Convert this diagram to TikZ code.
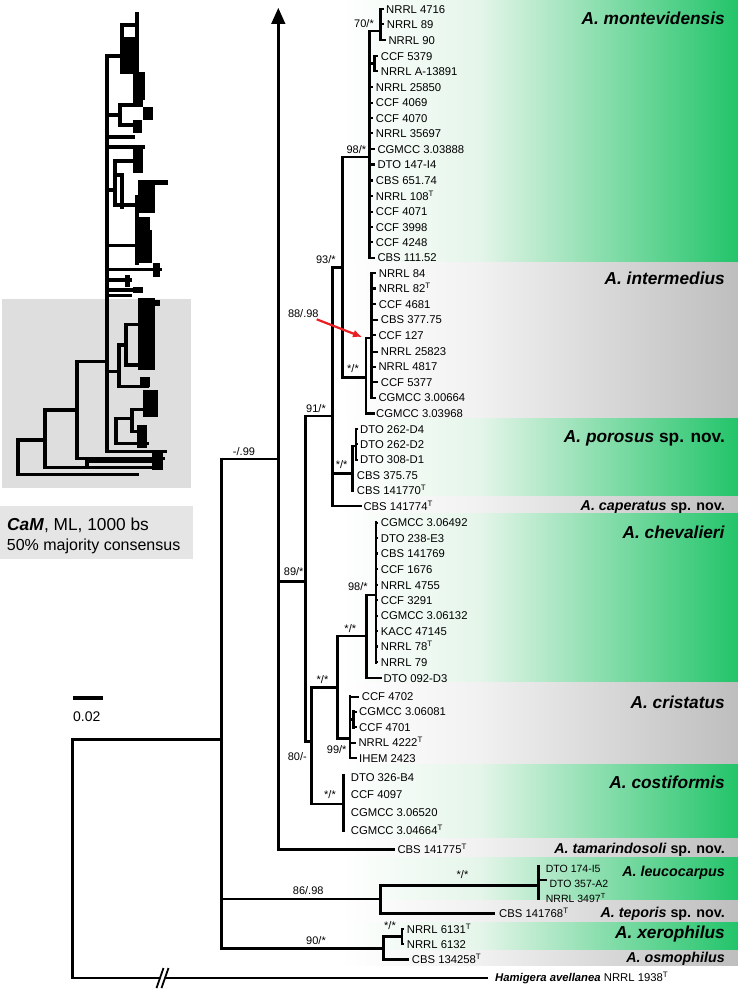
\documentclass[tikz,border=0pt]{standalone}
\usepackage{fontspec}
\setmainfont{Liberation Sans}
\usetikzlibrary{arrows.meta}
\definecolor{gband}{RGB}{35,196,106}
\definecolor{gbandl}{RGB}{228,245,233}
\definecolor{kband}{RGB}{190,190,190}
\definecolor{kbandl}{RGB}{241,241,241}
\definecolor{redarr}{RGB}{235,30,35}
\newcommand{\typeT}{\textsuperscript{T}}
\newcommand{\band}[3]{%
  \fill[left color=white,right color=#3l] (340,#1) rectangle (480.5,#2);
  \fill[left color=#3l,right color=#3] (480,#1) rectangle (738,#2);}
\newcommand{\leaf}[5]{%
  \node[tx] (#1) at (#3,#4) {#5};
  \draw[tk] (#2,#4) -- ({#3-2.5},#4);}
\newcommand{\leafn}[4]{\node[tx] (#1) at (#2,#3) {#4};}
\begin{document}
\begin{tikzpicture}[x=1pt,y=-1pt,
  br/.style={line width=2.7pt,line cap=rect},
  tk/.style={line width=2.2pt},
  th/.style={line width=3.4pt,line cap=rect},
  tx/.style={anchor=base west,yshift=-4.1pt,inner sep=0pt,font=\fontsize{11.3}{12}\selectfont},
  txs/.style={tx,font=\fontsize{10.5}{11}\selectfont,yshift=-3.8pt},
  sup/.style={anchor=base,yshift=-4pt,inner sep=0pt,font=\fontsize{11}{12}\selectfont},
  cbig/.style={anchor=base east,yshift=-6.2pt,inner sep=0pt,font=\fontsize{17.3}{18}\selectfont\bfseries},
  csml/.style={anchor=base east,yshift=-5.1pt,inner sep=0pt,font=\fontsize{14.3}{15}\selectfont\bfseries}]
\useasboundingbox (0,0) rectangle (738,990);
\fill[white] (0,0) rectangle (738,990);
% ---------- bands
\band{0}{262.3}{gband}
\band{262.3}{418.3}{kband}
\band{418.3}{496.7}{gband}
\band{496.7}{513.3}{kband}
\band{513.3}{682.7}{gband}
\band{682.7}{764}{kband}
\band{764}{838.3}{gband}
\band{838.3}{857.7}{kband}
\band{857.7}{900}{gband}
\band{900}{922.7}{kband}
\band{922.7}{950}{gband}
\band{950}{965.7}{kband}
% ---------- clade labels
\node[cbig] (cmon) at (725,18.3) {\textit{A. montevidensis}};
\node[cbig] (cint) at (725,278.3) {\textit{A. intermedius}};
\node[cbig] (cpor) at (725,436.7) {\textit{A. porosus} sp. nov.};
\node[csml] (ccap) at (725,505.5) {\textit{A. caperatus} sp. nov.};
\node[cbig] (cche) at (725,532.7) {\textit{A. chevalieri}};
\node[cbig] (ccri) at (725,702.7) {\textit{A. cristatus}};
\node[cbig] (ccos) at (725,782.7) {\textit{A. costiformis}};
\node[csml] (ctam) at (725,848.3) {\textit{A. tamarindosoli} sp. nov.};
\node[csml] (cleu) at (725,871.7) {\textit{A. leucocarpus}};
\node[csml] (ctep) at (725,912.3) {\textit{A. teporis} sp. nov.};
\node[cbig] (cxer) at (725,932.3) {\textit{A. xerophilus}};
\node[csml] (cosm) at (725,957.3) {\textit{A. osmophilus}};
% ---------- thumbnail
\fill[black!13] (2,299) rectangle (190.7,488.3);
\draw[th] (107,56) -- (107,451.7);
\draw[th] (107,56) -- (122,56);
\draw[th] (122,25) -- (122,72);
\draw[th] (122,25) -- (137,25);
\draw[th] (137,14) -- (137,72);
\fill (122,37) rectangle (137,72);
\draw[th] (122,72) -- (137,72);
\fill (133,72) rectangle (145,100);
\draw[th] (107,115) -- (120,115);
\draw[th] (120,105) -- (120,125);
\draw[th] (120,105) -- (133,105);
\fill (133,95) rectangle (143,107);
\fill (143,107) rectangle (153,120);
\draw[th] (120,125) -- (133,125);
\fill (133,120) rectangle (142,133);
\draw[th] (107,137) -- (133,137);
\draw[th] (107,147) -- (143,147);
\fill (133,147) rectangle (143,173);
\draw[th] (115,161) -- (133,161);
\draw[th] (107,190) -- (115,190);
\draw[th] (115,161) -- (115,205);
\draw[th] (115,175) -- (122,175);
\draw[th] (122,175) -- (122,207);
\fill (145,180) rectangle (168,185);
\fill (138,180) rectangle (155,213);
\draw[th] (115,205) -- (137,205);
\draw[th] (137,197) -- (137,227);
\fill (138,217) rectangle (150,240);
\draw[th] (137,230) -- (137,263);
\fill (138,230) rectangle (152,263);
\draw[th] (107,245.7) -- (137,245.7);
\draw[th] (107,269.3) -- (160,269.3);
\fill (153,263) rectangle (160,277);
\draw[th] (110,280) -- (130,280);
\fill (125,275) rectangle (130,287);
\draw[th] (110,290) -- (140,290);
\fill (133,287) rectangle (143,293);
\draw[th] (107,295.7) -- (130,295.7);
\fill (138,298) rectangle (155,370);
\fill (155,300) rectangle (160,306);
\draw[th] (126,324.3) -- (126,365);
\draw[th] (126,324.3) -- (138,324.3);
\draw[th] (126,365) -- (147,365);
\draw[th] (119,345) -- (119,386.7);
\draw[th] (119,345) -- (126,345);
\draw[th] (107,371.7) -- (119,371.7);
\draw[th] (119,386.7) -- (147,386.7);
\fill (140,377) rectangle (150,387);
\draw[th] (132,409.3) -- (132,431.7);
\draw[th] (132,409.3) -- (147,409.3);
\fill (143,390) rectangle (158,417);
\draw[th] (116,418.3) -- (116,443.3);
\draw[th] (116,418.3) -- (132,418.3);
\draw[th] (132,431.7) -- (143,431.7);
\fill (137,425) rectangle (147,448);
\draw[th] (116,443.3) -- (147,443.3);
\draw[th] (107,451.7) -- (165,451.7);
\draw[th] (77,361.7) -- (107,361.7);
\draw[th] (77,361.7) -- (77,458.3);
\draw[th] (77,458.3) -- (163,458.3);
\fill (152,450) rectangle (163,470);
\draw[th] (45,410) -- (77,410);
\draw[th] (45,410) -- (45,467.7);
\draw[th] (45,467.7) -- (150,467.7);
\draw[th] (87,461) -- (87,467.7);
\draw[th] (87,461) -- (153,461);
\draw[th] (18,440) -- (45,440);
\draw[th] (18,440) -- (18,474.3);
\draw[th] (18,474.3) -- (137,474.3);
% ---------- caption box
\fill[black!10] (0,505.7) rectangle (192.7,559);
\node[anchor=base west,yshift=-6.2pt,inner sep=0pt,font=\fontsize{17.3}{18}\selectfont] (cap1) at (7,524) {\textbf{\textit{CaM}}, ML, 1000 bs};
\node[anchor=base west,yshift=-5.8pt,inner sep=0pt,font=\fontsize{16}{17}\selectfont] (cap2) at (6.7,545) {50\% majority consensus};
% ---------- scale bar
\draw[line width=4pt] (73.3,697.7) coordinate (sb1) -- (103.3,697.7) coordinate (sb2);
\node[anchor=base west,yshift=-5pt,inner sep=0pt,font=\fontsize{14}{15}\selectfont] (sbl) at (73,716.7) {0.02};
% ---------- leaves
\leaf{m1}{380.7}{386}{9.3}{NRRL 4716}
\leaf{m2}{380.7}{386.7}{24.3}{NRRL 89}
\leaf{m3}{380.7}{388.3}{40}{NRRL 90}
\leaf{m4}{374.5}{380.7}{56}{CCF 5379}
\leaf{m5}{374.5}{380.7}{71}{NRRL A-13891}
\leaf{m6}{369.3}{375.7}{87.3}{NRRL 25850}
\leaf{m7}{369.3}{375.7}{102.7}{CCF 4069}
\leaf{m8}{369.3}{375.7}{118.3}{CCF 4070}
\leaf{m9}{369.3}{375.7}{133.3}{NRRL 35697}
\leaf{m10}{369.3}{377.3}{149}{CGMCC 3.03888}
\leaf{m11}{369.3}{377.3}{164.5}{DTO 147-I4}
\leaf{m12}{369.3}{375.7}{180.5}{CBS 651.74}
\leaf{m13}{369.3}{375.7}{196}{NRRL 108\typeT}
\leaf{m14}{369.3}{375.7}{211.7}{CCF 4071}
\leaf{m15}{369.3}{375.7}{227}{CCF 3998}
\leaf{m16}{369.3}{375.7}{242.3}{CCF 4248}
\leaf{m17}{369.3}{377.3}{257.7}{CBS 111.52}
\leaf{i1}{371.7}{378.7}{273.3}{NRRL 84}
\leaf{i2}{371.7}{378.7}{288.5}{NRRL 82\typeT}
\leaf{i3}{371.7}{378.7}{304}{CCF 4681}
\leaf{i4}{371.7}{380.7}{319.7}{CBS 377.75}
\leaf{i5}{371.7}{378.3}{335}{CCF 127}
\leaf{i6}{371.7}{380.7}{351.7}{NRRL 25823}
\leaf{i7}{371.7}{378.3}{366.7}{NRRL 4817}
\leaf{i8}{371.7}{380.7}{382.3}{CCF 5377}
\leaf{i9}{371.7}{378.3}{397.7}{CGMCC 3.00664}
\leafn{i10}{376}{413.3}{CGMCC 3.03968}
\leaf{p1}{356}{360}{429}{DTO 262-D4}
\leaf{p2}{356}{360}{444.3}{DTO 262-D2}
\leaf{p3}{356}{360}{459.7}{DTO 308-D1}
\leaf{p4}{352.3}{356.7}{475}{CBS 375.75}
\leaf{p5}{352.3}{356.7}{490.7}{CBS 141770\typeT}
\leafn{c1}{363.3}{506}{CBS 141774\typeT}
\leaf{h1}{376}{380.7}{522.7}{CGMCC 3.06492}
\leaf{h2}{376}{380.7}{538.3}{DTO 238-E3}
\leaf{h3}{376}{380.7}{553.5}{CBS 141769}
\leaf{h4}{376}{380.7}{569.3}{CCF 1676}
\leaf{h5}{376}{380.7}{585}{NRRL 4755}
\leaf{h6}{376}{380.7}{600.3}{CCF 3291}
\leaf{h7}{376}{380.7}{615.7}{CGMCC 3.06132}
\leaf{h8}{376}{380.7}{631}{KACC 47145}
\leaf{h9}{376}{380.7}{646.5}{NRRL 78\typeT}
\leaf{h10}{376}{380.7}{662.3}{NRRL 79}
\leafn{h11}{383.3}{678}{DTO 092-D3}
\leaf{r1}{350}{361.7}{696.7}{CCF 4702}
\leaf{r2}{353.5}{359}{711.7}{CGMCC 3.06081}
\leaf{r3}{353.5}{359}{727.3}{CCF 4701}
\leaf{r4}{350}{358.3}{742.7}{NRRL 4222\typeT}
\leaf{r5}{350}{359}{758}{IHEM 2423}
\leafn{o1}{350.7}{777.5}{DTO 326-B4}
\leafn{o2}{350.7}{794.3}{CCF 4097}
\leafn{o3}{350.7}{812.2}{CGMCC 3.06520}
\leafn{o4}{350.7}{830}{CGMCC 3.04664\typeT}
\leafn{t1}{397.3}{849.3}{CBS 141775\typeT}
\node[txs] (l1) at (545.7,865) {DTO 174-I5};
\node[txs] (l2) at (549.3,880) {DTO 357-A2};
\node[txs] (l3) at (545.7,894.3) {NRRL 3497\typeT};
\draw[tk] (538.3,880) -- (546.5,880);
\leafn{e1}{499}{913}{CBS 141768\typeT}
\leaf{x1}{402}{406.7}{929.3}{NRRL 6131\typeT}
\leaf{x2}{402}{406.7}{944}{NRRL 6132}
\leafn{x3}{411.7}{959}{CBS 134258\typeT}
\node[tx] (hg) at (495,977.5) {\textbf{\textit{Hamigera avellanea}} NRRL 1938\typeT};
% ---------- tree branches
\draw[br] (278.3,849.3) -- (278.3,22);
\fill (278.3,8) -- (285.5,24) -- (271.1,24) -- cycle;
\draw[br] (278.3,849.3) -- (393.3,849.3);
\draw[br] (221.7,459) -- (278.3,459);
\draw[br] (278.3,581.7) -- (305.7,581.7);
\draw[br] (305.7,416) -- (305.7,741.7);
\draw[br] (305.7,416) -- (332.7,416);
\draw[br] (332.7,267.3) -- (332.7,506);
\draw[br] (332.7,267.3) -- (342.3,267.3);
\draw[br] (342.3,157) -- (342.3,377.3);
\draw[br] (342.3,157) -- (369.3,157);
\draw[br] (369.3,31) -- (369.3,257.7);
\draw[br] (369.3,31) -- (380.7,31);
\draw[br] (380.7,9.3) -- (380.7,40);
\draw[br] (369.3,63.5) -- (374.5,63.5);
\draw[br] (374.5,56) -- (374.5,71);
\draw[br] (342.3,377.3) -- (366,377.3);
\draw[br] (366,338) -- (366,413.3);
\draw[br] (366,338) -- (371.7,338);
\draw[br] (371.7,273.3) -- (371.7,397.7);
\draw[br] (366,413.3) -- (373.5,413.3);
\draw[br] (332.7,473.3) -- (352.3,473.3);
\draw[br] (352.3,446) -- (352.3,490.7);
\draw[br] (352.3,446) -- (356,446);
\draw[br] (356,429) -- (356,459.7);
\draw[br] (332.7,506) -- (360.5,506);
\draw[br] (305.7,741.7) -- (311.7,741.7);
\draw[br] (311.7,687.7) -- (311.7,804);
\draw[br] (311.7,687.7) -- (337.7,687.7);
\draw[br] (337.7,636) -- (337.7,738.3);
\draw[br] (337.7,636) -- (366.7,636);
\draw[br] (366.7,595) -- (366.7,678);
\draw[br] (366.7,595) -- (376,595);
\draw[br] (376,522.7) -- (376,662.3);
\draw[br] (366.7,678) -- (380.5,678);
\draw[br] (337.7,738.3) -- (350,738.3);
\draw[br] (350,696.7) -- (350,758);
\draw[br] (350,719.5) -- (353.5,719.5);
\draw[br] (353.5,711.7) -- (353.5,727.3);
\draw[br] (311.7,804) -- (343.3,804);
\draw[br] (343.3,775.5) -- (343.3,831);
\draw[br] (221.7,459) -- (221.7,948.3);
\draw[br] (221.7,899) -- (380.7,899);
\draw[br] (380.7,885.7) -- (380.7,913.3);
\draw[br] (380.7,885.7) -- (538.3,885.7);
\draw[br] (538.3,866) -- (538.3,898.3);
\draw[br] (380.7,913.3) -- (493.3,913.3);
\draw[br] (221.7,948.3) -- (383.3,948.3);
\draw[br] (383.3,936.7) -- (383.3,959.3);
\draw[br] (383.3,936.7) -- (402,936.7);
\draw[br] (402,929.3) -- (402,944);
\draw[br] (383.3,959.3) -- (408,959.3);
\draw[br] (72.7,739.3) -- (72.7,978);
\draw[br] (72.7,739.3) -- (221.7,739.3);
\draw[br] (72.7,978) -- (487,978);
% break mark
\fill[white] (157.5,987) -- (163.5,969) -- (168.5,969) -- (162.5,987) -- cycle;
\draw[line width=1.8pt] (156.5,988) -- (163.5,968);
\draw[line width=1.8pt] (161.5,988) -- (168.5,968);
% red arrow
\draw[redarr,line width=2.2pt,-{Latex[length=9pt,width=8pt]}] (316.7,319.3) -- (362,337);
% ---------- support values
\node[sup] at (364,23.3) {70/*};
\node[sup] at (356.3,149) {98/*};
\node[sup] at (325.8,259) {93/*};
\node[sup] at (303.3,313.3) {88/.98};
\node[sup] at (353,368.3) {*/*};
\node[sup] at (316,408.3) {91/*};
\node[sup] at (244,451) {-/.99};
\node[sup] at (341.7,464) {*/*};
\node[sup] at (293.7,571) {89/*};
\node[sup] at (357.8,586) {98/*};
\node[sup] at (350.3,628.3) {*/*};
\node[sup] at (322.5,679.3) {*/*};
\node[sup] at (336.7,749) {99/*};
\node[sup] at (297.3,756.7) {80/-};
\node[sup] at (330,794) {*/*};
\node[sup] at (308.2,890.7) {86/.98};
\node[sup] at (462.5,874) {*/*};
\node[sup] at (316,940) {90/*};
\node[sup] at (390,925.7) {*/*};
\end{tikzpicture}
\end{document}
